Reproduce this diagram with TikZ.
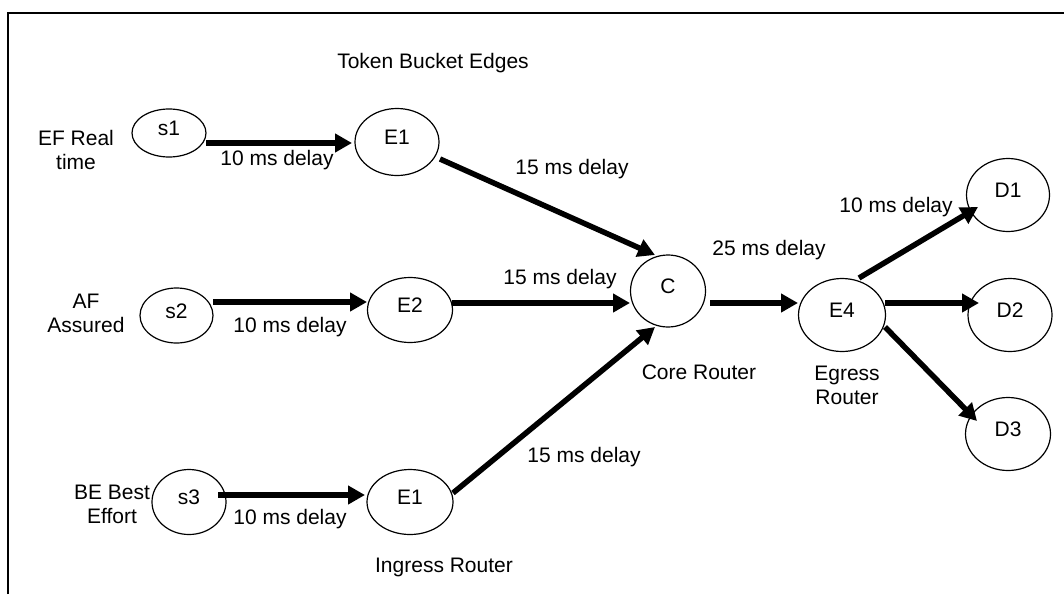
\documentclass[tikz,border=0pt]{standalone}
\usepackage{fontspec}
\setmainfont{Liberation Sans}
\usetikzlibrary{shapes.geometric,arrows.meta,calc}

\tikzset{
  router/.style={ellipse, draw, line width=1.2pt, inner sep=0pt,
    text height=15pt, text depth=10pt},
  flow/.style={line width=5.5pt, -{Triangle[length=17pt,width=18pt]}},
  lbl/.style={anchor=base, inner sep=0pt, align=center},
}

\begin{document}
\begin{tikzpicture}[x=1pt, y=-1pt, font=\fontsize{21}{23.5}\selectfont]
\useasboundingbox (0,0) rectangle (1064,594);

% frame (top and left edges)
\draw[line width=2pt] (7.5,594) -- (7.5,13.5) -- (1064,13.5);

% hosts, edge routers, core and destinations
\node[router, minimum width=74pt, minimum height=48pt] (s1)  at (169,133)   {s1};
\node[router, minimum width=84pt, minimum height=67pt] (E1)  at (397,142)   {E1};
\node[router, minimum width=73pt, minimum height=55pt] (s2)  at (176.5,315.5) {s2};
\node[router, minimum width=85pt, minimum height=65pt] (E2)  at (410,310)   {E2};
\node[router, minimum width=74pt, minimum height=65pt] (s3)  at (189,502)   {s3};
\node[router, minimum width=86pt, minimum height=65pt] (E1b) at (410,502)   {E1};
\node[router, minimum width=75pt, minimum height=72pt] (C)   at (668,291)   {C};
\node[router, minimum width=87pt, minimum height=73pt] (E4)  at (842,315)   {E4};
\node[router, minimum width=83pt, minimum height=73pt] (D1)  at (1008,195)  {D1};
\node[router, minimum width=84pt, minimum height=73pt] (D2)  at (1010,315)  {D2};
\node[router, minimum width=85pt, minimum height=73pt] (D3)  at (1008,434)  {D3};

% flows
\draw[flow] ($(s1)+(37,10)$) -- ($(E1)+(-45,1)$);
\draw[flow] ($(E1)+(43,17)$) -- ($(C)+(-13,-36)$);
\draw[flow] ($(s2)+(36.5,-13.5)$) -- ($(E2)+(-43,-8)$);
\draw[flow] ($(E2)+(42,-7)$) -- ($(C)+(-38,12)$);
\draw[flow] ($(s3)+(29,-7)$) -- ($(E1b)+(-45,-7)$);
\draw[flow] ($(E1b)+(43,-9)$) -- ($(C)+(-13,36)$);
\draw[flow] ($(C)+(42,12)$) -- ($(E4)+(-44,-12)$);
\draw[flow] ($(E4)+(17,-37)$) -- ($(D1)+(-30,12)$);
\draw[flow] ($(E4)+(43,-12)$) -- ($(D2)+(-31,-12)$);
\draw[flow] ($(E4)+(43,12)$) -- ($(D3)+(-31,-13)$);

% labels (for two-line labels the base is that of the second line)
\node[lbl] (ttl) at (433,68)  {Token Bucket Edges};
\node[lbl] (ef)  at (76,169)  {EF Real\\time};
\node[lbl] (af)  at (86,332)  {AF\\Assured};
\node[lbl] (be)  at (112,523) {BE Best\\Effort};
\node[lbl] (d1)  at (277,165) {10 ms delay};
\node[lbl] (d2)  at (290,332) {10 ms delay};
\node[lbl] (d3)  at (290,524) {10 ms delay};
\node[lbl] (d4)  at (572,174) {15 ms delay};
\node[lbl] (d5)  at (560,284) {15 ms delay};
\node[lbl] (d6)  at (584,462) {15 ms delay};
\node[lbl] (d7)  at (769,255) {25 ms delay};
\node[lbl] (d8)  at (896,212) {10 ms delay};
\node[lbl] (ing) at (444,572) {Ingress Router};
\node[lbl] (cor) at (699,379) {Core Router};
\node[lbl] (egr) at (847,404) {Egress\\Router};
\end{tikzpicture}
\end{document}
